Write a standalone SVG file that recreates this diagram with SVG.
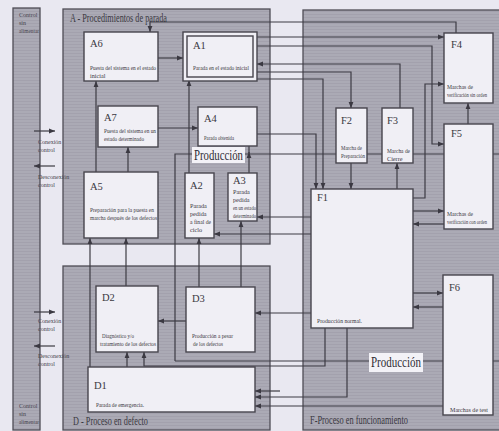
<svg xmlns="http://www.w3.org/2000/svg" width="499" height="431" viewBox="0 0 499 431">
<defs>
<pattern id="scan" width="4" height="3" patternUnits="userSpaceOnUse"><rect width="4" height="3" fill="#abaab5"/><rect y="2" width="4" height="1" fill="#a3a1ad"/></pattern>
<marker id="ah" viewBox="0 0 6 6" refX="6" refY="3" markerWidth="6" markerHeight="6" markerUnits="userSpaceOnUse" orient="auto"><path d="M0,0.6 L6,3 L0,5.4 z" fill="#3b3942"/></marker>
</defs>
<style>
.panel{fill:url(#scan);stroke:#4f4d56;stroke-width:1.3}
.box{fill:#f0eff5;stroke:#47454d;stroke-width:1.4}
.c{fill:none;stroke:#3d3b44;stroke-width:1.2}
.a{marker-end:url(#ah)}
text{font-family:"Liberation Serif","Times New Roman",serif;fill:#3a3841}
.id{font-size:10.5px}
.t{font-size:6.2px}
.tn{font-size:5.6px}
.s{font-size:6px;fill:#45434c}
.ttl{font-size:11.5px}
.prod{font-size:15px;fill:#2f2d35}
.pbg{fill:#f3f2f7}
</style>
<rect width="499" height="431" fill="#e9e8f1"/>
<g id="panels">
<rect class="panel" x="13" y="8" width="27" height="422"/>
<rect class="panel" x="63" y="9" width="207" height="235"/>
<rect class="panel" x="63" y="266" width="207" height="164"/>
<rect class="panel" x="303" y="10" width="200" height="420"/>
<text class="ttl" x="70" y="22" textLength="97" lengthAdjust="spacingAndGlyphs">A - Procedimientos de parada</text>
<text class="ttl" x="73" y="425" textLength="75" lengthAdjust="spacingAndGlyphs">D - Proceso en defecto</text>
<text class="ttl" x="310" y="424" textLength="98" lengthAdjust="spacingAndGlyphs">F-Proceso en funcionamiento</text>
<text class="s" x="19" y="17">Control</text>
<text class="s" x="19" y="25">sin</text>
<text class="s" x="19" y="33" textLength="20" lengthAdjust="spacingAndGlyphs">alimentar</text>
<text class="s" x="19" y="408">Control</text>
<text class="s" x="19" y="416">sin</text>
<text class="s" x="19" y="424" textLength="20" lengthAdjust="spacingAndGlyphs">alimentar</text>
<text class="s" x="38" y="144">Conexión</text>
<text class="s" x="38" y="152">control</text>
<text class="s" x="38" y="179">Desconexión</text>
<text class="s" x="38" y="187">control</text>
<text class="s" x="38" y="323">Conexión</text>
<text class="s" x="38" y="331">control</text>
<text class="s" x="38" y="358">Desconexión</text>
<text class="s" x="38" y="366">control</text>
</g>
<g id="connectors">
<path class="c" d="M175,361 V154 H193 M244,154 H499"/>
<path class="c" d="M175,361 H370 M422,361 H499"/>
<path class="c a" d="M34,131 H55"/>
<path class="c a" d="M55,166 H34"/>
<path class="c a" d="M34,312 H55"/>
<path class="c a" d="M55,346 H34"/>
<path class="c a" d="M456,33 V22 H150 V32"/>
<path class="c a" d="M158,58 H183"/>
<path class="c a" d="M257,37 H444"/>
<path class="c a" d="M257,46 H432 V144 H444"/>
<path class="c a" d="M400,108 V64 H257"/>
<path class="c a" d="M257,72 H351 V108"/>
<path class="c a" d="M257,79 H323 V189"/>
<path class="c a" d="M413,198 H425 V84 H444"/>
<path class="c a" d="M468,124 V103"/>
<path class="c a" d="M351,163 V189"/>
<path class="c a" d="M397,189 V163"/>
<path class="c a" d="M413,211 H444"/>
<path class="c a" d="M444,224 H413"/>
<path class="c a" d="M257,134 H316 V189"/>
<path class="c a" d="M158,128 H198"/>
<path class="c a" d="M96,172 V81"/>
<path class="c a" d="M128,172 V147"/>
<path class="c a" d="M189,173 V80"/>
<path class="c a" d="M249,173 V152"/>
<path class="c" d="M249,153 V146"/>
<path class="c a" d="M311,217 H257"/>
<path class="c a" d="M311,234 H214"/>
<path class="c a" d="M199,287 V238"/>
<path class="c a" d="M241,287 V221"/>
<path class="c a" d="M126,286 V238"/>
<path class="c a" d="M90,367 V238"/>
<path class="c a" d="M311,313 H255"/>
<path class="c a" d="M186,321 H158"/>
<path class="c a" d="M127,367 V352"/>
<path class="c a" d="M325,328 V366 H144 V352"/>
<path class="c a" d="M347,328 V397 H255"/>
<path class="c a" d="M443,406 H255"/>
<path class="c a" d="M280,391 H255"/>
<path class="c a" d="M413,293 H443"/>
<path class="c a" d="M443,307 H413"/>
</g>
<g id="prodA"><rect class="pbg" x="192" y="147" width="53" height="16"/><text class="prod" x="194" y="160" textLength="49" lengthAdjust="spacingAndGlyphs">Producción</text></g>
<g id="prodF"><rect class="pbg" x="369" y="353" width="54" height="19"/><text class="prod" x="371" y="367" textLength="50" lengthAdjust="spacingAndGlyphs">Producción</text></g>
<g id="A6"><rect class="box" x="84" y="32" width="74" height="49"/><text class="id" x="90" y="47">A6</text><text class="t" x="90" y="70" textLength="66" lengthAdjust="spacingAndGlyphs">Puesta del sistema en el estado</text><text class="t" x="90" y="78">inicial</text></g>
<g id="A1"><rect class="box" x="183" y="32" width="74" height="49"/><rect class="box" x="187" y="36" width="66" height="41" stroke-width="1.2"/><text class="id" x="193" y="49">A1</text><text class="t" x="193" y="70" textLength="56" lengthAdjust="spacingAndGlyphs">Parada en el estado inicial</text></g>
<g id="A7"><rect class="box" x="98" y="106" width="60" height="41"/><text class="id" x="104" y="121">A7</text><text class="t" x="104" y="133" textLength="52" lengthAdjust="spacingAndGlyphs">Puesta del sistema en un</text><text class="t" x="104" y="141" textLength="40" lengthAdjust="spacingAndGlyphs">estado determinado</text></g>
<g id="A4"><rect class="box" x="198" y="107" width="59" height="39"/><text class="id" x="204" y="122">A4</text><text class="t" x="204" y="140" textLength="30" lengthAdjust="spacingAndGlyphs">Parada obtenida</text></g>
<g id="A5"><rect class="box" x="84" y="172" width="74" height="66"/><text class="id" x="90" y="190">A5</text><text class="t" x="90" y="212" textLength="64" lengthAdjust="spacingAndGlyphs">Preparación para la puesta en</text><text class="t" x="90" y="220" textLength="67" lengthAdjust="spacingAndGlyphs">marcha después de los defectos</text></g>
<g id="A2"><rect class="box" x="185" y="173" width="29" height="65"/><text class="id" x="190" y="189">A2</text><text class="t" x="190" y="208">Parada</text><text class="t" x="190" y="216">pedida</text><text class="t" x="190" y="224" textLength="21" lengthAdjust="spacingAndGlyphs">a final de</text><text class="t" x="190" y="232">ciclo</text></g>
<g id="A3"><rect class="box" x="228" y="173" width="29" height="48"/><text class="id" x="233" y="184" font-size="10">A3</text><text class="t" x="233" y="194">Parada</text><text class="t" x="233" y="202">pedida</text><text class="t" x="233" y="210" textLength="23" lengthAdjust="spacingAndGlyphs">en un estado</text><text class="t" x="233" y="218" textLength="23" lengthAdjust="spacingAndGlyphs">determinado</text></g>
<g id="D2"><rect class="box" x="96" y="286" width="62" height="66"/><text class="id" x="102" y="301">D2</text><text class="t" x="102" y="338" textLength="32" lengthAdjust="spacingAndGlyphs">Diagnóstico y/o</text><text class="t" x="100" y="346" textLength="56" lengthAdjust="spacingAndGlyphs">tratamiento de los defectos</text></g>
<g id="D3"><rect class="box" x="186" y="287" width="69" height="65"/><text class="id" x="192" y="302">D3</text><text class="t" x="192" y="338" textLength="41" lengthAdjust="spacingAndGlyphs">Producción a pesar</text><text class="t" x="193" y="346" textLength="30" lengthAdjust="spacingAndGlyphs">de los defectos</text></g>
<g id="D1"><rect class="box" x="88" y="367" width="167" height="45"/><text class="id" x="94" y="389">D1</text><text class="t" x="96" y="407" textLength="48" lengthAdjust="spacingAndGlyphs">Parada de emergencia.</text></g>
<g id="F1"><rect class="box" x="311" y="189" width="102" height="139"/><text class="id" x="317" y="201">F1</text><text class="t" x="317" y="323" textLength="45" lengthAdjust="spacingAndGlyphs">Producción normal.</text></g>
<g id="F2"><rect class="box" x="336" y="108" width="31" height="55"/><text class="id" x="341" y="124">F2</text><text class="t" x="341" y="150" textLength="21" lengthAdjust="spacingAndGlyphs">Marcha de</text><text class="t" x="341" y="158" textLength="24" lengthAdjust="spacingAndGlyphs">Preparación</text></g>
<g id="F3"><rect class="box" x="382" y="108" width="31" height="55"/><text class="id" x="387" y="124">F3</text><text class="t" x="387" y="153" textLength="23" lengthAdjust="spacingAndGlyphs">Marcha de</text><text class="t" x="387" y="161">Cierre</text></g>
<g id="F4"><rect class="box" x="444" y="33" width="49" height="70"/><text class="id" x="451" y="48">F4</text><text class="tn" x="447" y="89" textLength="26" lengthAdjust="spacingAndGlyphs">Marchas de</text><text class="tn" x="447" y="97" textLength="40" lengthAdjust="spacingAndGlyphs">verificación sin orden</text></g>
<g id="F5"><rect class="box" x="444" y="124" width="49" height="105"/><text class="id" x="451" y="137">F5</text><text class="tn" x="447" y="216" textLength="26" lengthAdjust="spacingAndGlyphs">Marchas de</text><text class="tn" x="447" y="224" textLength="40" lengthAdjust="spacingAndGlyphs">verificación con orden</text></g>
<g id="F6"><rect class="box" x="443" y="275" width="50" height="140"/><text class="id" x="449" y="291">F6</text><text class="t" x="450" y="412" textLength="38" lengthAdjust="spacingAndGlyphs">Marchas de test</text></g>
</svg>
